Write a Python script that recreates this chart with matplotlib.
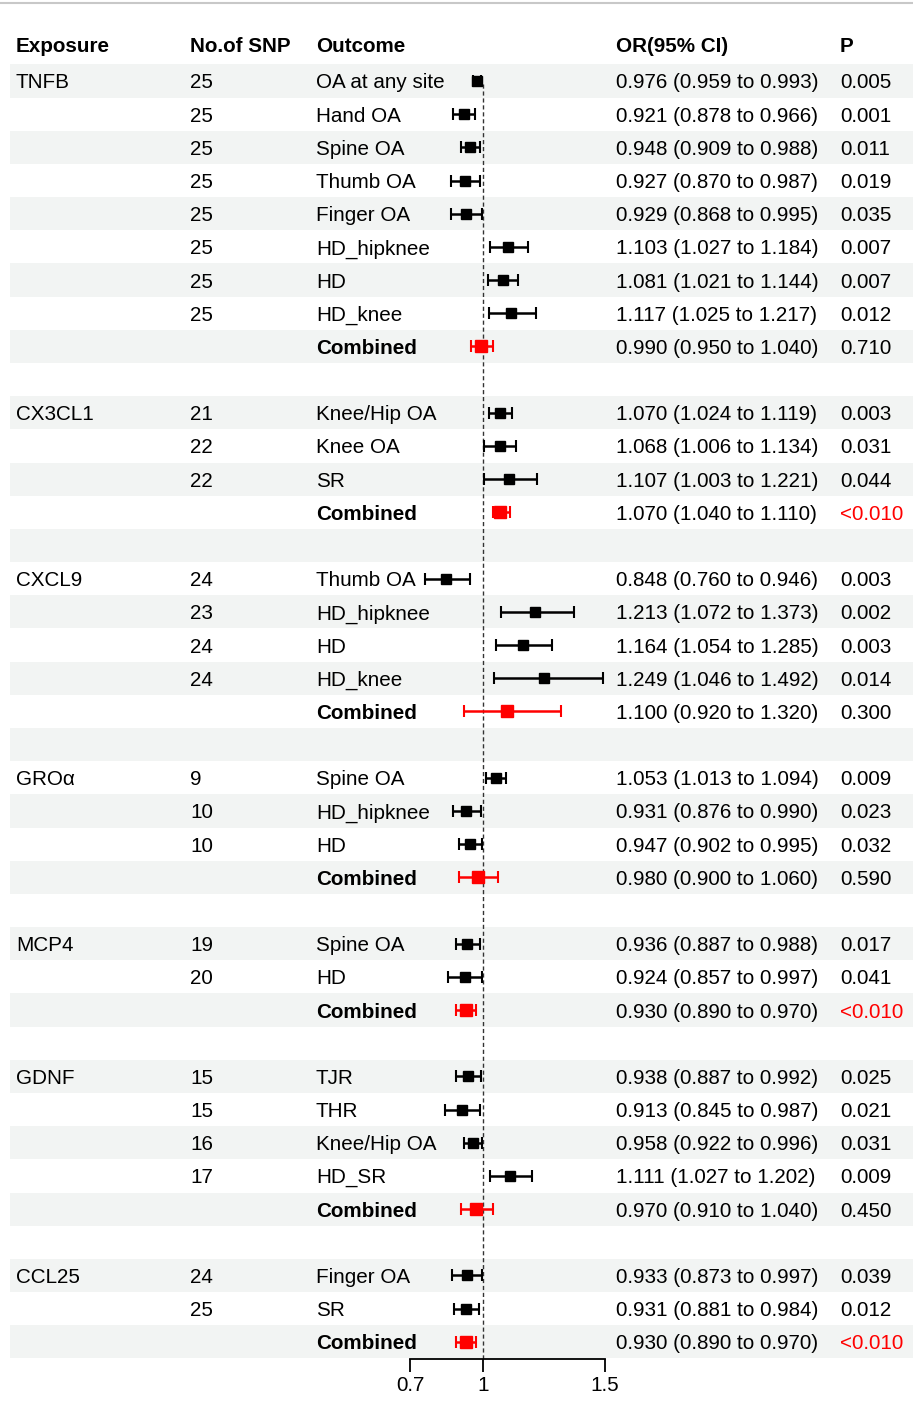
import matplotlib.pyplot as plt

# -----------------------------
# Data
# -----------------------------
exposures = ["TNFB", "CX3CL1", "CXCL9", "GROα", "MCP4", "GDNF", "CCL25"]
group_sizes = [9, 4, 5, 4, 3, 5, 3]

n_snp = ["25", "25", "25", "25", "25", "25", "25", "25", "",
         "21", "22", "22", "",
         "24", "23", "24", "24", "",
         "9", "10", "10", "",
         "19", "20", "",
         "15", "15", "16", "17", "",
         "24", "25", ""]
outcomes = ["OA at any site", "Hand OA", "Spine OA", "Thumb OA", "Finger OA",
            "HD_hipknee", "HD", "HD_knee", "Combined",
            "Knee/Hip OA", "Knee OA", "SR", "Combined",
            "Thumb OA", "HD_hipknee", "HD", "HD_knee", "Combined",
            "Spine OA", "HD_hipknee", "HD", "Combined",
            "Spine OA", "HD", "Combined",
            "TJR", "THR", "Knee/Hip OA", "HD_SR", "Combined",
            "Finger OA", "SR", "Combined"]
or_est = [0.976, 0.921, 0.948, 0.927, 0.929, 1.103, 1.081, 1.117, 0.990,
          1.070, 1.068, 1.107, 1.070,
          0.848, 1.213, 1.164, 1.249, 1.100,
          1.053, 0.931, 0.947, 0.980,
          0.936, 0.924, 0.930,
          0.938, 0.913, 0.958, 1.111, 0.970,
          0.933, 0.931, 0.930]
ci_low = [0.959, 0.878, 0.909, 0.870, 0.868, 1.027, 1.021, 1.025, 0.950,
          1.024, 1.006, 1.003, 1.040,
          0.760, 1.072, 1.054, 1.046, 0.920,
          1.013, 0.876, 0.902, 0.900,
          0.887, 0.857, 0.890,
          0.887, 0.845, 0.922, 1.027, 0.910,
          0.873, 0.881, 0.890]
ci_high = [0.993, 0.966, 0.988, 0.987, 0.995, 1.184, 1.144, 1.217, 1.040,
           1.119, 1.134, 1.221, 1.110,
           0.946, 1.373, 1.285, 1.492, 1.320,
           1.094, 0.990, 0.995, 1.060,
           0.988, 0.997, 0.970,
           0.992, 0.987, 0.996, 1.202, 1.040,
           0.997, 0.984, 0.970]
p_vals = ["0.005", "0.001", "0.011", "0.019", "0.035", "0.007", "0.007", "0.012", "0.710",
          "0.003", "0.031", "0.044", "<0.010",
          "0.003", "0.002", "0.003", "0.014", "0.300",
          "0.009", "0.023", "0.032", "0.590",
          "0.017", "0.041", "<0.010",
          "0.025", "0.021", "0.031", "0.009", "0.450",
          "0.039", "0.012", "<0.010"]
x_ticks = [0.7, 1, 1.5]

# -----------------------------
# Layout (pixels)
# -----------------------------
W, H = 913, 1404
ROW0, STEP = 81, 33.18
FS = 14.9
DY = 2 / STEP  # small downward nudge for text
plt.rcParams["font.family"] = ["Liberation Sans", "DejaVu Sans"]

# row index for each data row, a blank row between groups
rows, first_rows = [], []
r = 0
for size in group_sizes:
    first_rows.append(r)
    rows.extend(range(r, r + size))
    r += size + 1
n_rows = r - 1

fig = plt.figure(figsize=(W / 100, H / 100), dpi=100)

# table axes: x in pixels, y in rows
tab = fig.add_axes([0, 0, 1, 1])
tab.set_xlim(0, W)
tab.set_ylim((H - ROW0) / STEP, -ROW0 / STEP)
tab.axis("off")

for i in range(0, n_rows, 2):
    tab.axhspan(i - 0.5, i + 0.5, xmin=10 / W, xmax=1, color="#F2F4F3", lw=0)
tab.axhline(-ROW0 / STEP + 3 / STEP, color="#C8C8C8", lw=1.5)

hy = (45 - ROW0) / STEP + DY
cols = {"Exposure": 16, "No.of SNP": 190, "Outcome": 316, "OR(95% CI)": 616, "P": 840}
for name, x in cols.items():
    tab.text(x, hy, name, fontsize=FS, fontweight="bold", va="center")

for g, r0 in zip(exposures, first_rows):
    tab.text(16, r0 + DY, g, fontsize=FS, va="center")

for i, r in enumerate(rows):
    comb = outcomes[i] == "Combined"
    ty = r + DY
    tab.text(190, ty, n_snp[i], fontsize=FS, va="center")
    tab.text(316, ty, outcomes[i], fontsize=FS, va="center",
             fontweight="bold" if comb else "normal")
    tab.text(616, ty, f"{or_est[i]:.3f} ({ci_low[i]:.3f} to {ci_high[i]:.3f})",
             fontsize=FS, va="center")
    tab.text(840, ty, p_vals[i], fontsize=FS, va="center",
             color="red" if p_vals[i].startswith("<") else "black")

# forest axes
x0, x1 = 410, 604.7
axis_y = 1359
ax = fig.add_axes([x0 / W, (H - axis_y) / H, (x1 - x0) / W, axis_y / H])
ax.patch.set_alpha(0)
ax.set_xlim(0.7, 1.5)
ax.set_ylim((axis_y - ROW0) / STEP, -ROW0 / STEP)
for s in ["top", "left", "right"]:
    ax.spines[s].set_visible(False)
ax.spines["bottom"].set_linewidth(1.3)
ax.set_yticks([])
ax.set_xticks(x_ticks)
ax.set_xticklabels(["0.7", "1", "1.5"])
ax.tick_params(axis="x", length=9.5, width=1.3, labelsize=FS, pad=3)

ax.vlines(1, 0.1, (axis_y - ROW0) / STEP, colors="#333333", linestyles=(0, (3, 2)), lw=1)

for i, r in enumerate(rows):
    comb = outcomes[i] == "Combined"
    c = "red" if comb else "black"
    ax.errorbar(or_est[i], r,
                xerr=[[or_est[i] - ci_low[i]], [ci_high[i] - or_est[i]]],
                fmt="s", color=c, ms=8 if comb else 7.5, elinewidth=1.8,
                capsize=4, capthick=1.5, clip_on=False, zorder=3)

fig.savefig("out.png", dpi=100)
